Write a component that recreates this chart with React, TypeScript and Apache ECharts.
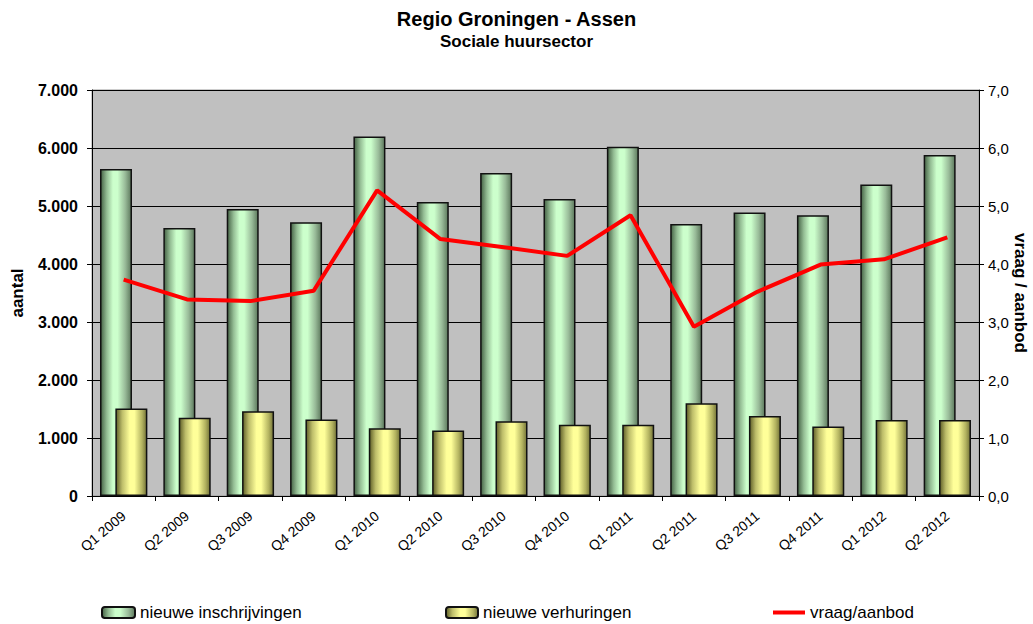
import React, { useEffect, useRef } from "react";
import * as echarts from "echarts";

const categories = [
  "Q1 2009", "Q2 2009", "Q3 2009", "Q4 2009",
  "Q1 2010", "Q2 2010", "Q3 2010", "Q4 2010",
  "Q1 2011", "Q2 2011", "Q3 2011", "Q4 2011",
  "Q1 2012", "Q2 2012",
];
const inschrijvingen = [5640, 4620, 4950, 4720, 6200, 5070, 5570, 5120, 6020, 4690, 4890, 4840, 5370, 5880];
const verhuringen = [1510, 1350, 1460, 1320, 1170, 1130, 1290, 1230, 1230, 1600, 1380, 1200, 1310, 1310];
const vraagAanbod = [3.73, 3.39, 3.36, 3.54, 5.27, 4.43, 4.29, 4.14, 4.84, 2.92, 3.52, 3.99, 4.08, 4.46];

const leftTicks = { min: 0, max: 7000, interval: 1000 };
const rightTicks = { min: 0, max: 7, interval: 1 };

const FONT = "Liberation Sans, Arial, sans-serif";

export default function App() {
  const ref = useRef<HTMLDivElement>(null);

  useEffect(() => {
    document.body.style.margin = "0";
    if (!ref.current) return;
    const chart = echarts.init(ref.current, undefined, { renderer: "svg" });

    const greenGrad = new echarts.graphic.LinearGradient(0, 0, 1, 0, [
      { offset: 0, color: "#456245" },
      { offset: 0.2, color: "#94bd94" },
      { offset: 0.4, color: "#ccffcc" },
      { offset: 0.55, color: "#ccffcc" },
      { offset: 0.8, color: "#99bb99" },
      { offset: 1, color: "#5c785c" },
    ]);
    const yellowGrad = new echarts.graphic.LinearGradient(0, 0, 1, 0, [
      { offset: 0, color: "#5e5e28" },
      { offset: 0.2, color: "#bdbd6a" },
      { offset: 0.45, color: "#ffff99" },
      { offset: 0.6, color: "#ffff99" },
      { offset: 0.85, color: "#b3b360" },
      { offset: 1, color: "#737338" },
    ]);

    const legendText = { fontSize: 17, color: "#000", fontFamily: FONT };

    chart.setOption({
      animation: false,
      backgroundColor: "#ffffff",
      textStyle: { fontFamily: FONT },
      title: {
        text: "Regio Groningen - Assen",
        subtext: "Sociale huursector",
        left: "center",
        top: 4,
        itemGap: 4,
        textStyle: { fontSize: 20, fontWeight: "bold", color: "#000", fontFamily: FONT },
        subtextStyle: { fontSize: 17, fontWeight: "bold", color: "#000", fontFamily: FONT },
      },
      legend: [
        {
          data: ["nieuwe inschrijvingen"],
          left: 101, top: 604, padding: 0,
          itemWidth: 33, itemHeight: 11,
          textStyle: legendText,
        },
        {
          data: ["nieuwe verhuringen"],
          left: 445, top: 604, padding: 0,
          itemWidth: 32, itemHeight: 11,
          textStyle: legendText,
        },
        {
          data: [{ name: "vraag/aanbod", icon: "rect" }],
          left: 773, top: 604, padding: 0,
          itemWidth: 32, itemHeight: 4,
          textStyle: legendText,
        },
      ],
      grid: {
        left: 92, right: 54, top: 90, bottom: 128,
        outerBoundsMode: "none",
        containLabel: false,
        show: true,
        backgroundColor: "#c0c0c0",
        borderColor: "#9a9a9a",
        borderWidth: 1,
      },
      xAxis: {
        type: "category",
        data: categories,
        boundaryGap: true,
        axisLine: { lineStyle: { color: "#000", width: 1 } },
        axisTick: { show: true, inside: false, length: 5, lineStyle: { color: "#000" } },
        axisLabel: {
          rotate: 40,
          interval: 0,
          fontSize: 14,
          color: "#000",
          margin: 18,
          fontFamily: FONT,
        },
      },
      yAxis: [
        {
          type: "value",
          ...leftTicks,
          position: "left",
          name: "aantal",
          nameLocation: "middle",
          nameGap: 66,
          nameRotate: 90,
          nameTextStyle: { fontSize: 17, fontWeight: "bold", color: "#000", fontFamily: FONT },
          axisLine: { show: true, lineStyle: { color: "#000", width: 1 } },
          axisTick: { show: true, length: 5, lineStyle: { color: "#000" } },
          axisLabel: {
            fontSize: 16,
            fontWeight: "bold",
            color: "#000",
            margin: 14,
            fontFamily: FONT,
            formatter: (v: number) => (v === 0 ? "0" : v.toLocaleString("de-DE")),
          },
          splitLine: { show: true, lineStyle: { color: "#000", width: 1 } },
        },
        {
          type: "value",
          ...rightTicks,
          position: "right",
          name: "vraag / aanbod",
          nameLocation: "middle",
          nameGap: 33,
          nameMoveOverlap: false,
          nameRotate: -90,
          nameTextStyle: {
            fontSize: 17, fontWeight: "bold", color: "#000", fontFamily: FONT,
          },
          axisLine: { show: true, lineStyle: { color: "#000", width: 1 } },
          axisTick: { show: true, length: 5, lineStyle: { color: "#000" } },
          axisLabel: {
            fontSize: 15,
            color: "#000",
            margin: 9,
            fontFamily: FONT,
            formatter: (v: number) => v.toFixed(1).replace(".", ","),
          },
          splitLine: { show: false },
        },
      ],
      series: [
        {
          name: "nieuwe inschrijvingen",
          type: "bar",
          data: inschrijvingen,
          barWidth: 32,
          barGap: "-52%",
          itemStyle: { color: greenGrad, borderColor: "#111", borderWidth: 1.5 },
        },
        {
          name: "nieuwe verhuringen",
          type: "bar",
          data: verhuringen,
          barWidth: 32,
          barGap: "-52%",
          itemStyle: { color: yellowGrad, borderColor: "#111", borderWidth: 1.5 },
        },
        {
          name: "vraag/aanbod",
          type: "line",
          yAxisIndex: 1,
          data: vraagAanbod,
          symbol: "none",
          showSymbol: false,
          z: 5,
          lineStyle: { color: "#ff0000", width: 4 },
          itemStyle: { color: "#ff0000" },
        },
      ],
    });

    return () => chart.dispose();
  }, []);

  return <div ref={ref} style={{ width: 1033, height: 624 }} />;
}
